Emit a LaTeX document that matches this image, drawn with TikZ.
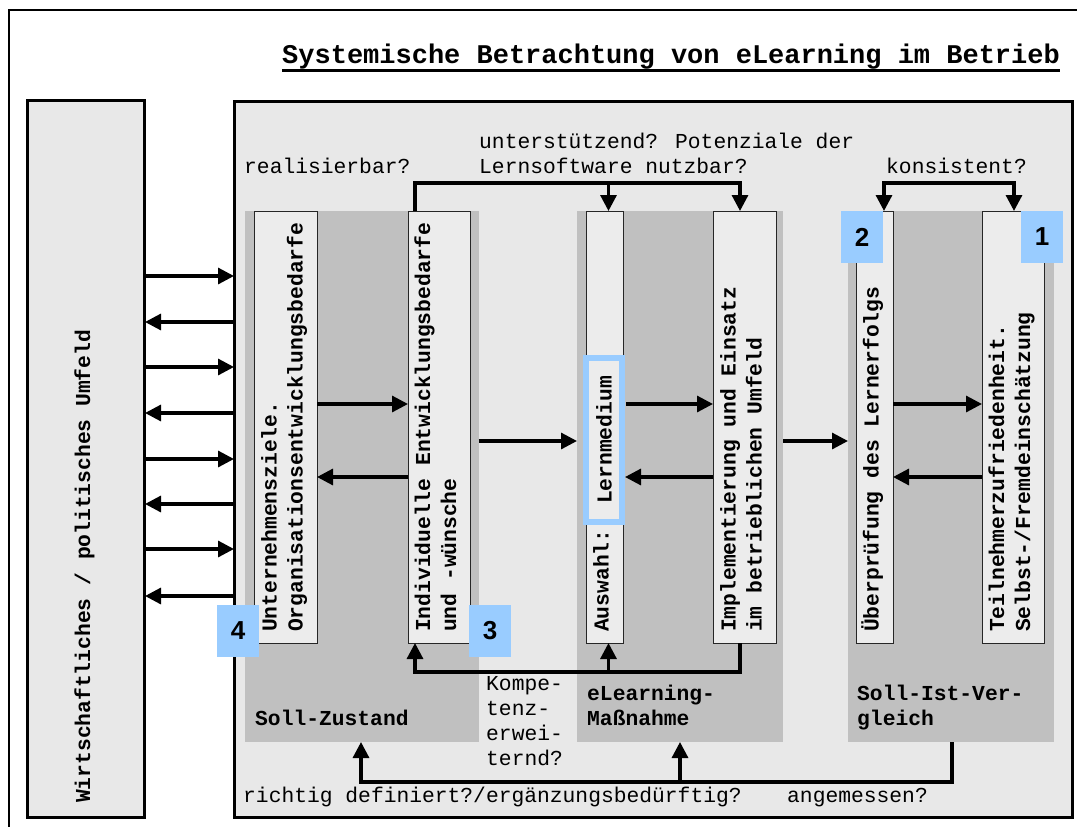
\documentclass[tikz,border=0pt]{standalone}
\usepackage{fontspec}
\newfontfamily\monof{Liberation Mono}
\newfontfamily\sansf{Liberation Sans}
\usetikzlibrary{arrows.meta}
\definecolor{mainbg}{RGB}{232,232,232}
\definecolor{groupgray}{RGB}{192,192,192}
\definecolor{boxfill}{RGB}{236,236,236}
\definecolor{badgeblue}{RGB}{153,204,255}
\begin{document}
\begin{tikzpicture}[x=1pt,y=-1pt,
  frame/.style={draw=black, line width=3pt, fill=mainbg, inner sep=0pt, outer sep=0pt, anchor=north west},
  grp/.style={fill=groupgray, inner sep=0pt, outer sep=0pt, anchor=north west, minimum height=531pt},
  bx/.style={draw=black!85, line width=1pt, fill=boxfill, inner sep=0pt, outer sep=0pt, anchor=north west, minimum height=432pt},
  badge/.style={fill=badgeblue, inner sep=0pt, outer sep=0pt, anchor=north west, minimum width=42pt, minimum height=52pt, font=\sansf\bfseries\fontsize{26}{26}\selectfont},
  txt/.style={font=\monof\fontsize{21.3}{25}\selectfont, inner sep=0pt, anchor=base west},
  btxt/.style={font=\monof\bfseries\fontsize{21.3}{25}\selectfont, inner sep=0pt, anchor=base west},
  vtxt/.style={font=\monof\bfseries\fontsize{21.3}{25}\selectfont, inner sep=0pt, anchor=mid west, rotate=90},
  arr/.style={line width=3.2pt, -{Triangle[length=16pt,width=16pt]}},
  darr/.style={line width=3.2pt, {Triangle[length=16pt,width=16pt]}-{Triangle[length=16pt,width=16pt]}}
]
\useasboundingbox (0,0) rectangle (1077,827);
% outer frame
\draw[line width=2pt] (8.5,840) -- (8.5,10) -- (1090,10);
% title
\node[btxt, font=\monof\bfseries\fontsize{27}{30}\selectfont] (title) at (282,63) {Systemische Betrachtung von eLearning im Betrieb};
\draw[line width=2.5pt] (title.west |- 0,70.5) -- (title.east |- 0,70.5);

% environment and system boxes
\node[frame, minimum width=116.5pt, minimum height=717pt] (env) at (27.5,100) {};
\node[frame, minimum width=838.5pt, minimum height=716pt] (sys) at (234,101) {};
\node[vtxt] (envt) at (88,803) {Wirtschaftliches / politisches Umfeld};

% groups
\node[grp, minimum width=234pt] (g1) at (244.5,211) {};
\node[grp, minimum width=206pt] (g2) at (577,211) {};
\node[grp, minimum width=206pt] (g3) at (848,211) {};

% boxes
\node[bx, minimum width=63pt] (A) at (254,211) {};
\node[bx, minimum width=62pt] (B) at (408,211) {};
\node[bx, minimum width=37pt] (C) at (586,211) {};
\node[bx, minimum width=63pt] (D) at (713,211) {};
\node[bx, minimum width=37pt] (E) at (856,211) {};
\node[bx, minimum width=62pt] (F) at (982,211) {};

% environment arrows
\foreach \yy in {276,367,459,549} \draw[arr] (env.east |- 0,\yy) -- (sys.west |- 0,\yy);
\foreach \yy in {322,413,504,596} \draw[arr] (sys.west |- 0,\yy) -- ([xshift=1pt]env.east |- 0,\yy);

% inner arrows
\draw[arr] (A.east |- 0,404) -- (B.west |- 0,404);
\draw[arr] (B.west |- 0,477) -- (A.east |- 0,477);
\draw[arr] (g1.east |- 0,441) -- (g2.west |- 0,441);
\draw[arr] ([xshift=3pt]C.east |- 0,404) -- (D.west |- 0,404);
\draw[arr] (D.west |- 0,477) -- ([xshift=2pt]C.east |- 0,477);
\draw[arr] (g2.east |- 0,441) -- (g3.west |- 0,441);
\draw[arr] (E.east |- 0,404) -- (F.west |- 0,404);
\draw[arr] (F.west |- 0,477) -- (E.east |- 0,477);

% top connectors
\draw[arr] (415,0 |- B.north) -- (415,183) -- (740,183) -- (740,0 |- D.north);
\draw[arr] (608.5,183) -- (608.5,0 |- C.north);
\draw[darr] (884,0 |- E.north) -- (884,183) -- (1014,183) -- (1014,0 |- F.north);

% bottom connectors
\draw[arr] (740,0 |- D.south) -- (740,672) -- (415,672) -- (415,0 |- B.south);
\draw[arr] (608.5,672) -- (608.5,0 |- C.south);
\draw[arr] (952,0 |- g3.south) -- (952,782) -- (361,782) -- (361,0 |- g1.south);
\draw[arr] (680,782) -- (680,0 |- g2.south);

% box texts
\node[vtxt] (At1) at (274.5,632) {Unternehmensziele.};
\node[vtxt] (At2) at (300.5,632) {Organisationsentwicklungsbedarfe};
\node[vtxt] (Bt1) at (428,632) {Individuelle Entwicklungsbedarfe};
\node[vtxt] (Bt2) at (454,632) {und -wünsche};
\node[vtxt] (Ct) at (606.5,632) {Auswahl:};
\node[vtxt] (Dt1) at (733.5,632) {Implementierung und Einsatz};
\node[vtxt] (Dt2) at (759.5,632) {im betrieblichen Umfeld};
\node[vtxt] (Et) at (876.5,632) {Überprüfung des Lernerfolgs};
\node[vtxt] (Ft1) at (1002,632) {Teilnehmerzufriedenheit.};
\node[vtxt] (Ft2) at (1028,632) {Selbst-/Fremdeinschätzung};

% highlighted Lernmedium
\node[draw=badgeblue, line width=6pt, fill=boxfill, rotate=90, minimum width=164pt, minimum height=36pt, inner sep=0pt,
  font=\monof\bfseries\fontsize{21.3}{25}\selectfont] (lern) at (604,440) {Lernmedium};

% labels
\node[txt] (l1) at (244,173) {realisierbar?};
\node[txt] (l2a) at (479,148) {unterstützend? Potenziale der};
\node[txt] (l2b) at (479,173) {Lernsoftware nutzbar?};
\node[txt] (l3) at (886,173) {konsistent?};
\node[txt] (k1) at (486,690) {Kompe-};
\node[txt] (k2) at (486,715) {tenz-};
\node[txt] (k3) at (486,740) {erwei-};
\node[txt] (k4) at (486,765) {ternd?};
\node[txt] (b1) at (243,802) {richtig definiert?/ergänzungsbedürftig?};
\node[txt] (b2) at (787,802) {angemessen?};

% group labels
\node[btxt] (g1t) at (255,725) {Soll-Zustand};
\node[btxt] (g2t1) at (587,700) {eLearning-};
\node[btxt] (g2t2) at (587,725) {Maßnahme};
\node[btxt] (g3t1) at (857,700) {Soll-Ist-Ver-};
\node[btxt] (g3t2) at (857,725) {gleich};

% badges
\node[badge] (n1) at (1021,211) {1};
\node[badge] (n2) at (841,211) {2};
\node[badge] (n3) at (469,605) {3};
\node[badge] (n4) at (217,605) {4};
\end{tikzpicture}
\end{document}
